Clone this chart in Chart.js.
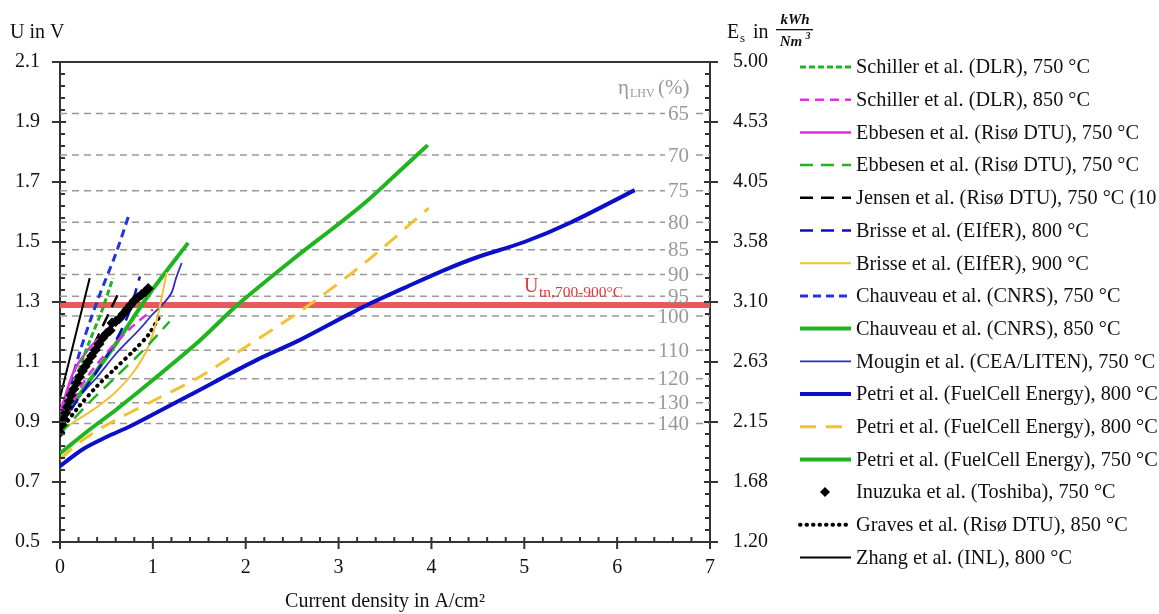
<!doctype html>
<html lang="en">
<head>
<meta charset="UTF-8">
<title>SOEC polarisation curves</title>
<script src="https://cdn.jsdelivr.net/npm/chart.js@4.4.1/dist/chart.umd.min.js"></script>
<style>
  html, body { margin: 0; padding: 0; background: #fff; }
</style>
</head>
<body>
<canvas id="myChart" width="1159" height="614"></canvas>
<script>
// Data----- (x: current density A/cm2, y: cell voltage V)
const schiller750 = [[0,0.90],[0.15,1.03],[0.32,1.17],[0.45,1.27],[0.57,1.38]];
const schiller850 = [[0,0.88],[0.25,1.03],[0.5,1.13],[0.75,1.21],[1.0,1.275]];
const ebbesenSolid = [[0,0.93],[0.15,1.07],[0.3,1.14],[0.45,1.19],[0.6,1.235]];
const ebbesenDash = [[0,0.86],[0.3,0.96],[0.6,1.05],[0.9,1.14],[1.18,1.235]];
const jensen = [[0,0.90],[0.2,1.04],[0.4,1.18],[0.63,1.33]];
const brisse800 = [[0,0.88],[0.2,0.98],[0.4,1.07],[0.6,1.17],[0.75,1.27],[0.86,1.385]];
const brisse900 = [[0,0.87],[0.2,0.91],[0.4,0.95],[0.6,1.0],[0.8,1.07],[0.95,1.15],[1.05,1.25],[1.15,1.40]];
const chauveau750 = [[0,0.90],[0.22,1.14],[0.41,1.31],[0.6,1.46],[0.75,1.597]];
const chauveau850 = [[0,0.90],[0.3,1.03],[0.6,1.16],[0.97,1.33],[1.38,1.497]];
const mougin = [[0,0.88],[0.2,0.98],[0.4,1.05],[0.61,1.13],[0.86,1.21],[1.0,1.26],[1.1,1.29],[1.2,1.33],[1.25,1.38],[1.31,1.43]];
const petri800 = [[0,0.753],[0.25,0.81],[0.5,0.85],[0.75,0.885],[1.0,0.925],[1.4,0.99],[2.12,1.107],[2.58,1.173],[3.26,1.283],[3.8,1.36],[4.19,1.413],[4.5,1.45],[5.0,1.50],[5.5,1.565],[6.19,1.673]];
const petri800b = [[0,0.775],[0.2,0.83],[0.5,0.89],[1.0,0.97],[1.5,1.05],[2.0,1.15],[2.66,1.285],[3.3,1.435],[3.97,1.613]];
const petri750 = [[0,0.795],[0.3,0.87],[0.6,0.94],[1.0,1.04],[1.5,1.17],[1.91,1.29],[2.5,1.44],[3.0,1.56],[3.3,1.635],[3.6,1.72],[3.96,1.823]];
const inuzuka = [[0,0.865],[0.02,0.89],[0.04,0.91],[0.06,0.93],[0.08,0.95],[0.1,0.97],[0.12,0.99],[0.15,1.01],
  [0.18,1.03],[0.21,1.05],[0.24,1.07],[0.27,1.085],[0.3,1.10],[0.34,1.12],[0.38,1.14],[0.42,1.16],[0.46,1.18],
  [0.5,1.195],[0.54,1.205],[0.56,1.23],[0.6,1.235],[0.64,1.245],[0.68,1.26],[0.72,1.275],[0.76,1.29],[0.8,1.305],
  [0.84,1.315],[0.88,1.325],[0.92,1.335],[0.95,1.345]];
const graves = [[0,0.87],[0.2,0.95],[0.4,1.02],[0.6,1.08],[0.8,1.14],[0.95,1.19],[1.07,1.25]];
const zhang = [[0,0.98],[0.16,1.18],[0.32,1.38]];

const thermoNeutral = [[0,1.29],[7,1.29]];
const etaLabels = ['65','70','75','80','85','90','95','100','110','120','130','140'];
const etaVolts = [1.928,1.790,1.671,1.566,1.474,1.392,1.319,1.253,1.139,1.044,0.964,0.895];
const energyTicks = ['1.20','1.68','2.15','2.63','3.10','3.58','4.05','4.53','5.00'];
// Data-----

const serif = '"Liberation Serif", "DejaVu Serif", serif';
const ink = '#333';
const green = '#1fb51f', blue = '#0a0fc8', magenta = '#e02ee0', yellow = '#f2c232';

const pts = arr => arr.map(([x, y]) => ({x, y}));
const line = (label, data, color, width, dash, extra) => Object.assign({
  label, data: pts(data), borderColor: color, backgroundColor: color,
  borderWidth: width, borderDash: dash || [], showLine: true, pointRadius: 0, tension: 0.3
}, extra || {});

const datasets = [
  line('Schiller et al. (DLR), 750 °C', schiller750, green, 3, [6, 3]),
  line('Schiller et al. (DLR), 850 °C', schiller850, magenta, 2.5, [9, 6]),
  line('Ebbesen et al. (Risø DTU), 750 °C', ebbesenSolid, magenta, 2.5),
  line('Ebbesen et al. (Risø DTU), 750 °C', ebbesenDash, green, 2.5, [13, 8]),
  line('Jensen et al. (Risø DTU), 750 °C (10', jensen, '#000', 2.5, [13, 8]),
  line('Brisse et al. (EIfER), 800 °C', brisse800, blue, 2.5, [13, 8]),
  line('Brisse et al. (EIfER), 900 °C', brisse900, yellow, 2),
  line('Chauveau et al. (CNRS), 750 °C', chauveau750, '#2035e0', 3, [8, 5]),
  line('Chauveau et al. (CNRS), 850 °C', chauveau850, green, 4),
  line('Mougin et al. (CEA/LITEN), 750 °C', mougin, '#2a2ec8', 1.8),
  line('Petri et al. (FuelCell Energy), 800 °C', petri800, blue, 4),
  line('Petri et al. (FuelCell Energy), 800 °C', petri800b, yellow, 3, [16, 10]),
  line('Petri et al. (FuelCell Energy), 750 °C', petri750, green, 4),
  line('Inuzuka et al. (Toshiba), 750 °C', inuzuka, '#000', 0, [], {showLine: false, pointRadius: 5.5, pointStyle: 'rectRot', order: -1}),
  line('Graves et al. (Risø DTU), 850 °C', graves, '#000', 4, [0.5, 6], {borderCapStyle: 'round'}),
  line('Zhang et al. (INL), 800 °C', zhang, '#000', 2),
  line('U_tn', thermoNeutral, '#e85a5a', 6, [], {tension: 0, order: 5})
];
etaVolts.forEach(u => datasets.push(line('eta', [[0, u], [7, u]], '#999', 1.5, [7, 5], {tension: 0, order: 10})));

const legendCount = 16;

const decor = {
  id: 'decor',
  afterDatasetsDraw(chart) {
    const {ctx, scales: {y}} = chart;
    ctx.save();
    // efficiency labels on the dashed lines
    ctx.font = `21px ${serif}`;
    ctx.textBaseline = 'middle';
    ctx.textAlign = 'right';
    etaVolts.forEach((u, i) => {
      const py = y.getPixelForValue(u);
      const w = ctx.measureText(etaLabels[i]).width;
      ctx.fillStyle = '#fff';
      ctx.fillRect(689 - w - 3, py - 3, w + 6, 6);
      ctx.fillStyle = '#999';
      ctx.fillText(etaLabels[i], 689, py + 1);
    });
    // eta_LHV title
    ctx.textAlign = 'left';
    ctx.textBaseline = 'alphabetic';
    ctx.font = `21px ${serif}`;
    ctx.fillText('η', 618, 94);
    ctx.font = `12px ${serif}`;
    ctx.fillText('LHV', 630, 97);
    ctx.font = `21px ${serif}`;
    ctx.fillText('(%)', 658, 94);
    // thermoneutral label, just above the red line
    ctx.fillStyle = '#e03a3a';
    ctx.font = `20px ${serif}`;
    ctx.fillText('U', 524, 292);
    ctx.font = `15.5px ${serif}`;
    ctx.fillText('tn,700-900°C', 539, 297);
    ctx.restore();
  },
  afterDraw(chart) {
    const {ctx, chartArea: a, scales: {x, y}} = chart;
    ctx.save();
    ctx.strokeStyle = ink;
    ctx.lineWidth = 2;
    // top frame line
    ctx.beginPath();
    ctx.moveTo(a.left - 8, a.top); ctx.lineTo(a.right + 8, a.top);
    ctx.stroke();
    // y tick marks (both axes)
    ctx.beginPath();
    for (let i = 0; i <= 40; i++) {
      const py = y.getPixelForValue(0.5 + i * 0.04);
      if (i % 5 === 0) {
        ctx.moveTo(a.left - 8, py); ctx.lineTo(a.left + 6, py);
        ctx.moveTo(a.right - 6, py); ctx.lineTo(a.right + 8, py);
      } else {
        ctx.moveTo(a.left, py); ctx.lineTo(a.left + 5, py);
        ctx.moveTo(a.right - 5, py); ctx.lineTo(a.right, py);
      }
    }
    // x tick marks
    for (let i = 0; i <= 35; i++) {
      const px = x.getPixelForValue(i * 0.2);
      if (i % 5 === 0) { ctx.moveTo(px, a.bottom - 5); ctx.lineTo(px, a.bottom + 7); }
      else { ctx.moveTo(px, a.bottom - 5); ctx.lineTo(px, a.bottom); }
    }
    ctx.stroke();

    // axis titles
    ctx.fillStyle = '#111';
    ctx.textAlign = 'left';
    ctx.font = `20px ${serif}`;
    ctx.fillText('U in V', 10, 38);
    ctx.fillText('E', 727, 38);
    ctx.font = `13px ${serif}`;
    ctx.fillText('s', 740, 42);
    ctx.font = `20px ${serif}`;
    ctx.fillText('in', 753, 38);
    ctx.font = `italic bold 15px ${serif}`;
    ctx.textAlign = 'center';
    ctx.fillText('kWh', 795, 24);
    ctx.fillText('Nm', 791, 46);
    ctx.font = `italic bold 10px ${serif}`;
    ctx.fillText('3', 808, 39);
    ctx.fillRect(776, 29, 37, 1.3);

    // legend
    ctx.textAlign = 'left';
    ctx.textBaseline = 'middle';
    chart.data.datasets.slice(0, legendCount).forEach((ds, i) => {
      const ly = 67 + i * 32.7;
      ctx.save();
      if (ds.showLine === false) {
        ctx.fillStyle = ds.backgroundColor;
        ctx.beginPath();
        ctx.moveTo(825, ly - 5); ctx.lineTo(830, ly); ctx.lineTo(825, ly + 5); ctx.lineTo(820, ly);
        ctx.closePath(); ctx.fill();
      } else {
        ctx.strokeStyle = ds.borderColor;
        ctx.lineWidth = ds.borderWidth;
        ctx.lineCap = ds.borderCapStyle || 'butt';
        ctx.setLineDash(ds.borderDash);
        ctx.beginPath(); ctx.moveTo(800, ly); ctx.lineTo(851, ly); ctx.stroke();
      }
      ctx.restore();
      ctx.fillStyle = '#111';
      ctx.font = `20.3px ${serif}`;
      ctx.fillText(ds.label, 856, ly + 1);
    });
    ctx.restore();
  }
};

const tickFont = {family: serif, size: 20};
const config = {
  type: 'scatter',
  data: {datasets},
  options: {
    responsive: false,
    animation: false,
    events: [],
    layout: {padding: {top: 62, left: 0, right: 0, bottom: 0}},
    plugins: {legend: {display: false}, tooltip: {enabled: false}},
    scales: {
      x: {
        type: 'linear', min: 0, max: 7,
        ticks: {stepSize: 1, font: tickFont, color: '#111', padding: 14},
        grid: {display: false, drawTicks: false},
        border: {color: ink, width: 2},
        title: {display: true, text: 'Current density in A/cm²', font: tickFont, color: '#111', padding: {top: 0, bottom: 0}},
        afterFit(s) { s.height = 72; }
      },
      y: {
        type: 'linear', min: 0.5, max: 2.1,
        ticks: {stepSize: 0.2, font: tickFont, color: '#111', padding: 20, callback: v => v.toFixed(1)},
        grid: {display: false, drawTicks: false},
        border: {color: ink, width: 2},
        afterFit(s) { s.width = 60; }
      },
      y2: {
        type: 'linear', position: 'right', min: 0.5, max: 2.1,
        ticks: {stepSize: 0.2, font: tickFont, color: '#111', padding: 23, callback: (v, i) => energyTicks[i]},
        grid: {display: false, drawTicks: false},
        border: {color: ink, width: 2},
        afterFit(s) { s.width = 449; }
      }
    }
  },
  plugins: [decor]
};

new Chart(document.getElementById('myChart'), config);
</script>
</body>
</html>
